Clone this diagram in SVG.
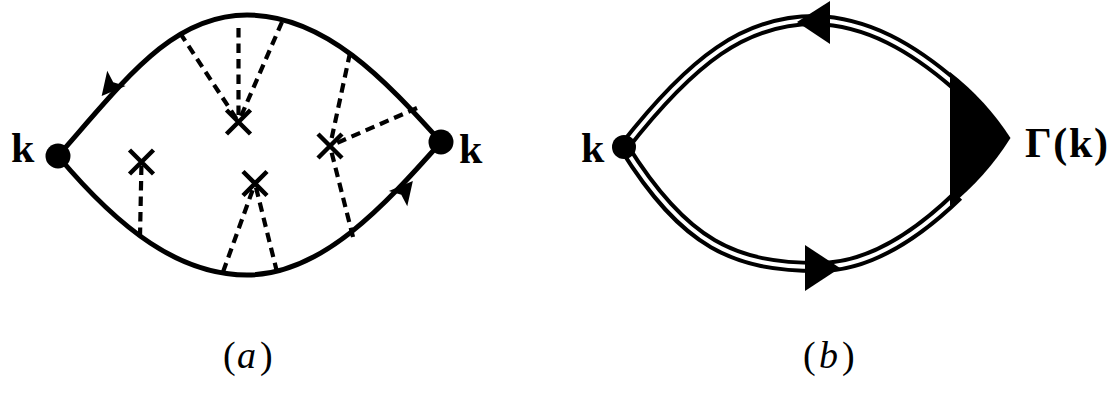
<svg xmlns="http://www.w3.org/2000/svg" width="1113" height="393" viewBox="0 0 1113 393">
  <style>
    .line { fill: none; stroke: #000; stroke-width: 5; }
    .dash { fill: none; stroke: #000; stroke-width: 4.2; stroke-dasharray: 9.5 6; }
    .cross { fill: none; stroke: #000; stroke-width: 4.5; }
    .dot { fill: #000; }
    .arrow { fill: #000; stroke: none; }
    .lbl { font-family: "Liberation Serif", "DejaVu Serif", serif; font-weight: bold; font-size: 42px; fill: #000; }
    .cap { font-family: "Liberation Serif", "DejaVu Serif", serif; font-size: 38px; fill: #000; }
    .dbl-o { fill: none; stroke: #000; stroke-width: 12; }
    .dbl-i { fill: none; stroke: #fff; stroke-width: 4; }
    .fill { fill: #000; stroke: none; }
  </style>
  <defs>
    <path id="x" d="M-12,-12 L12,12 M-12,12 L12,-12" class="cross"/>
    <path id="btop" d="M624,147 C692,60 745,20 815,20 C867.5,21.4 912.65,47.79 955.6,85.1"/>
    <path id="bbot" d="M624,147 C685,245 735,267 819,267 C868.7,267 915.46,236.62 957.9,195.4"/>
  </defs>

  <!-- connectors -->
  <g id="connectors">
    <!-- diagram (a) propagators -->
    <path class="line" d="M58,156 C125,80 172,15 247,15 C325,15 385,80 441,142"/>
    <path class="line" d="M58,156 C120,230 180,275 247,275 C322,275 385,205 441,142"/>
    <path class="arrow" transform="translate(110,86) rotate(130)" d="M13,0 L-10,-12 L-5,0 L-10,12 Z"/>
    <path class="arrow" transform="translate(404.5,191) rotate(-50)" d="M13,0 L-10,-12 L-5,0 L-10,12 Z"/>
    <!-- impurity lines -->
    <path class="dash" d="M140,237 L141.5,162"/>
    <path class="dash" d="M238.5,28 L238.5,122"/>
    <path class="dash" d="M180,33 L238.5,122"/>
    <path class="dash" d="M282,22 L238.5,122"/>
    <path class="dash" d="M223,272 L255,183.5"/>
    <path class="dash" d="M277,272 L255,183.5"/>
    <path class="dash" d="M350,53 L330,146"/>
    <path class="dash" d="M417,108 L330,146"/>
    <path class="dash" d="M353,237 L330,146"/>
    <!-- diagram (b) dressed propagators -->
    <use href="#btop" class="dbl-o"/>
    <use href="#bbot" class="dbl-o"/>
    <use href="#btop" class="dbl-i"/>
    <use href="#bbot" class="dbl-i"/>
    <polygon class="fill" points="797,22 830,1 830,44"/>
    <polygon class="fill" points="805,245 840,268 805,291"/>
  </g>

  <!-- diagram (a) nodes -->
  <g id="a-left-vertex">
    <circle class="dot" cx="58" cy="156" r="12.5"/>
    <text class="lbl" x="11" y="162">k</text>
  </g>
  <g id="a-right-vertex">
    <circle class="dot" cx="441" cy="142" r="12.5"/>
    <text class="lbl" x="459" y="163">k</text>
  </g>
  <g id="a-impurity-1"><use href="#x" transform="translate(141.5,162)"/></g>
  <g id="a-impurity-2"><use href="#x" transform="translate(238.5,122)"/></g>
  <g id="a-impurity-3"><use href="#x" transform="translate(255,183.5)"/></g>
  <g id="a-impurity-4"><use href="#x" transform="translate(330,146)"/></g>
  <g id="a-caption">
    <text class="cap" y="368"><tspan x="223">(</tspan><tspan x="237" font-style="italic">a</tspan><tspan x="260">)</tspan></text>
  </g>

  <!-- diagram (b) nodes -->
  <g id="b-left-vertex">
    <circle class="dot" cx="624" cy="147" r="12"/>
    <text class="lbl" x="581" y="162">k</text>
  </g>
  <g id="b-vertex-gamma">
    <path class="fill" d="M950,72 Q986,100 1010.5,138 Q986,177 950,206 Z"/>
    <text class="lbl" x="1025" y="157" textLength="83" lengthAdjust="spacing">Γ(k)</text>
  </g>
  <g id="b-caption">
    <text class="cap" y="368"><tspan x="803">(</tspan><tspan x="819" font-style="italic">b</tspan><tspan x="842">)</tspan></text>
  </g>
</svg>
